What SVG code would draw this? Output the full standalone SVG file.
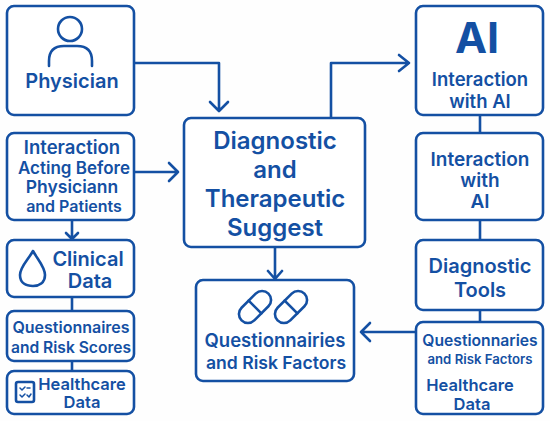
<svg xmlns="http://www.w3.org/2000/svg" width="550" height="421" viewBox="0 0 550 421">
<style>
.b{fill:#fff;stroke:#1450a3;stroke-width:2.6}
.l{fill:none;stroke:#1450a3;stroke-width:2.6;stroke-linecap:round;stroke-linejoin:round}
.t{stroke-width:1.5}
text{font-family:"Inter","Liberation Sans",Arial,sans-serif;font-weight:600;fill:#1450a3;text-anchor:middle}
</style>
<rect width="550" height="421" fill="#fefefe"/>
<g id="connectors">
<path class="l" d="M134 63H219V110M210 102L219 111L228 102"/>
<path class="l" d="M134 172H178M169 163L178 172L169 181"/>
<path class="l" d="M72 220V239M66 233L72 239L78 233"/>
<path class="l" d="M72 297V311M72 361V371"/>
<path class="l" d="M331 118V63H409M399 55L409 63L399 71"/>
<path class="l" d="M480 116V132M480 220V240M480 310V322"/>
<path class="l" d="M275 248V278M268 271L275 279L282 271"/>
<path class="l" d="M415 332H361M370 323L361 332L370 341"/>
</g>
<g id="physician"><rect class="b" x="7" y="6" width="127" height="109" rx="7"/>
<circle class="l" cx="70" cy="29" r="12"/><path class="l" d="M49 66V61Q49 46 64 46H77Q92 46 92 61V66"/>
<text x="72" y="88" font-size="20">Physician</text></g>
<g id="interaction-before"><rect class="b" x="7" y="133" width="127" height="87" rx="7"/>
<text x="72" y="154" font-size="18.5">Interaction</text>
<text x="74" y="174" font-size="17">Acting Before</text>
<text x="72" y="193" font-size="17.5">Physiciann</text>
<text x="74" y="212" font-size="16">and Patients</text></g>
<g id="clinical-data"><rect class="b" x="7" y="240" width="127" height="57" rx="7"/>
<path class="l" d="M33 251C28 260 20 267 20 275C20 283 26 286 33 286C39 286 45 283 45 275C45 267 38 260 33 251Z"/>
<text x="88" y="266" font-size="20">Clinical</text>
<text x="90" y="288" font-size="20">Data</text></g>
<g id="questionnaires-scores"><rect class="b" x="7" y="311" width="127" height="50" rx="7"/>
<text x="71" y="333" font-size="16">Questionnaires</text>
<text x="71" y="353" font-size="15.6">and Risk Scores</text></g>
<g id="healthcare-left"><rect class="b" x="7" y="371" width="127" height="43" rx="7"/>
<rect class="l" x="16" y="382" width="18" height="20" rx="2"/>
<path class="l t" d="M20 388L22 390L25 387M27 388H30M20 395L22 397L25 394M27 395L29 397L31 394"/>
<text x="82" y="390" font-size="16.5">Healthcare</text>
<text x="82" y="408" font-size="16.5">Data</text></g>
<g id="diagnostic"><rect class="b" x="184" y="118" width="181" height="129" rx="7"/>
<text x="275" y="149" font-size="24">Diagnostic</text>
<text x="275" y="178" font-size="24">and</text>
<text x="275" y="207" font-size="24">Therapeutic</text>
<text x="275" y="236" font-size="24">Suggest</text></g>
<g id="questionnaires-factors"><rect class="b" x="196" y="280" width="158" height="101" rx="7"/>
<g transform="translate(255 307) rotate(-45)"><rect class="l" x="-19" y="-9" width="38" height="18" rx="9"/><path class="l" d="M0 -9V9"/></g>
<g transform="translate(291 307) rotate(-45)"><rect class="l" x="-19" y="-9" width="38" height="18" rx="9"/><path class="l" d="M0 -9V9"/></g>
<text x="275" y="347" font-size="18.5">Questionnairies</text>
<text x="276" y="369" font-size="17.6">and Risk Factors</text></g>
<g id="ai"><rect class="b" x="416" y="6" width="127" height="109" rx="7"/>
<text x="477" y="53" font-size="43" style="font-weight:700">AI</text>
<text x="480" y="86" font-size="18.5">Interaction</text>
<text x="480" y="108" font-size="18.5">with AI</text></g>
<g id="interaction-ai"><rect class="b" x="416" y="133" width="127" height="87" rx="7"/>
<text x="480" y="166" font-size="19">Interaction</text>
<text x="480" y="187" font-size="19">with</text>
<text x="480" y="208" font-size="19">AI</text></g>
<g id="diagnostic-tools"><rect class="b" x="416" y="240" width="127" height="70" rx="7"/>
<text x="480" y="273" font-size="20">Diagnostic</text>
<text x="480" y="297" font-size="20">Tools</text></g>
<g id="questionnaries-right"><rect class="b" x="416" y="322" width="127" height="92" rx="7"/>
<text x="480" y="346" font-size="15.7">Questionnaries</text>
<text x="480" y="364" font-size="13.2">and Risk Factors</text>
<text x="470" y="391" font-size="16.5">Healthcare</text>
<text x="472" y="410" font-size="16.5">Data</text></g>
</svg>
